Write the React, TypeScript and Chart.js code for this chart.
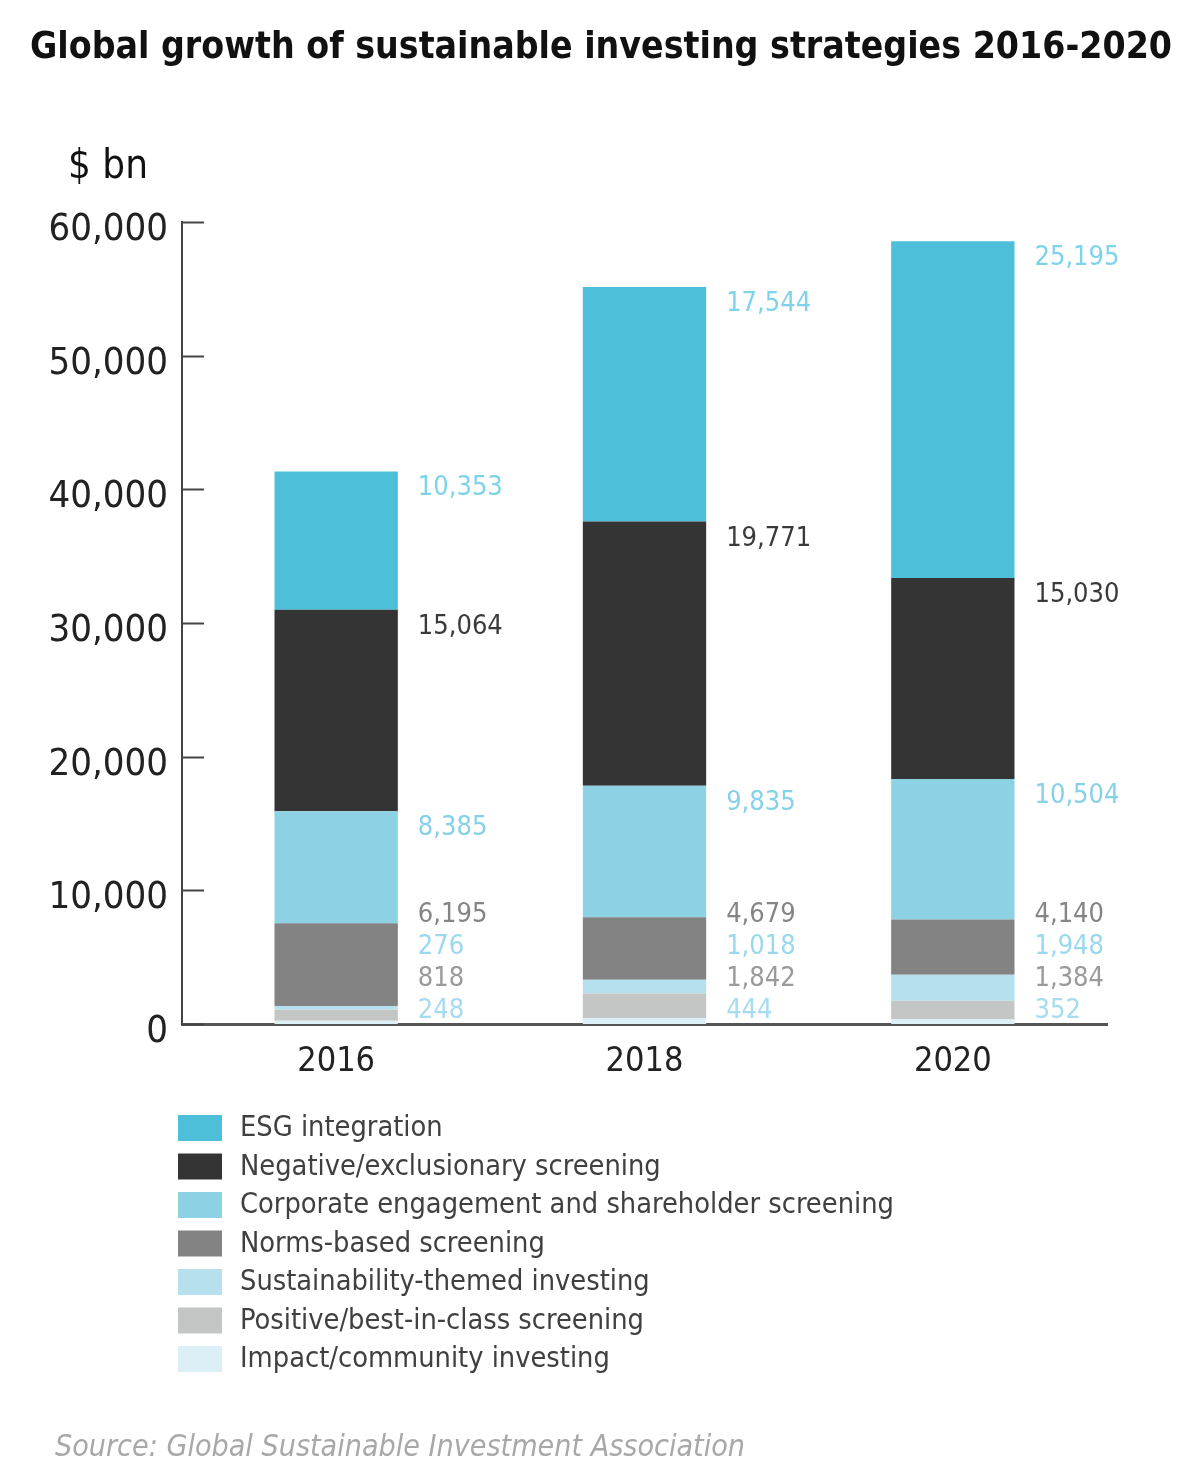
import React, { useEffect, useRef } from "react";
import { Chart, registerables } from "chart.js";

Chart.register(...registerables);

// ---- data ----
const years = ["2016", "2018", "2020"];
const impactInvesting = [248, 444, 352];
const positiveScreening = [818, 1842, 1384];
const sustainabilityThemed = [276, 1018, 1948];
const normsBased = [6195, 4679, 4140];
const corporateEngagement = [8385, 9835, 10504];
const negativeScreening = [15064, 19771, 15030];
const esgIntegration = [10353, 17544, 25195];
const yTicks = [0, 10000, 20000, 30000, 40000, 50000, 60000];

const TITLE = "Global growth of sustainable investing strategies 2016-2020";
const UNIT = "$ bn";
const SOURCE = "Source: Global Sustainable Investment Association";

const FONT = '"DejaVu Sans Condensed", "DejaVu Sans", sans-serif';

// stacked bottom -> top
const seriesDefs = [
  { label: "Impact/community investing", data: impactInvesting, color: "#DCEEF6", text: "#A6DCEF", slot: 0 },
  { label: "Positive/best-in-class screening", data: positiveScreening, color: "#C4C5C5", text: "#9A9A9A", slot: 1 },
  { label: "Sustainability-themed investing", data: sustainabilityThemed, color: "#B6E0EE", text: "#9AD8EE", slot: 2 },
  { label: "Norms-based screening", data: normsBased, color: "#838383", text: "#858585", slot: 3 },
  { label: "Corporate engagement and shareholder screening", data: corporateEngagement, color: "#8DD2E4", text: "#86D1E8", slot: -1 },
  { label: "Negative/exclusionary screening", data: negativeScreening, color: "#343434", text: "#3A3A3A", slot: -1 },
  { label: "ESG integration", data: esgIntegration, color: "#4DBFD9", text: "#7ED3EA", slot: -1 },
];

const fmt = (v: number) => v.toLocaleString("en-US");

function fitFont(ctx: CanvasRenderingContext2D, text: string, prefix: string, target: number) {
  ctx.font = `${prefix} 40px ${FONT}`;
  const w = ctx.measureText(text).width;
  const size = (40 * target) / w;
  ctx.font = `${prefix} ${size.toFixed(2)}px ${FONT}`;
}

const decorPlugin = {
  id: "decor",
  afterDraw(chart: any) {
    const ctx = chart.ctx as CanvasRenderingContext2D;
    const ys = chart.scales.y;
    const area = chart.chartArea;
    ctx.save();

    // title
    ctx.fillStyle = "#111";
    fitFont(ctx, TITLE, "bold", 1142);
    ctx.textAlign = "center";
    ctx.textBaseline = "middle";
    ctx.fillText(TITLE, 601, 48);

    // unit
    ctx.font = `40px ${FONT}`;
    ctx.textAlign = "left";
    ctx.fillText(UNIT, 68, 168);

    // inner tick marks on the y axis
    ctx.strokeStyle = "#444";
    ctx.lineWidth = 2;
    yTicks.forEach((v) => {
      const py = Math.round(ys.getPixelForValue(v)) + 0.5;
      ctx.beginPath();
      ctx.moveTo(area.left, py);
      ctx.lineTo(area.left + 22, py);
      ctx.stroke();
    });

    // value labels
    ctx.font = `27px ${FONT}`;
    ctx.textAlign = "left";
    ctx.textBaseline = "middle";
    const zeroPx = ys.getPixelForValue(0);
    seriesDefs.forEach((s, di) => {
      const meta = chart.getDatasetMeta(di);
      meta.data.forEach((bar: any, j: number) => {
        const lx = bar.x + bar.width / 2 + 20;
        let ly: number;
        if (s.slot >= 0) {
          ly = zeroPx - 13 - 32 * s.slot;
        } else {
          ly = bar.y + 17;
        }
        ctx.fillStyle = s.text;
        ctx.fillText(fmt(s.data[j]), lx, ly);
      });
    });

    // legend (top of stack first)
    const legend = [...seriesDefs].reverse();
    ctx.font = `28.7px ${FONT}`;
    legend.forEach((s, k) => {
      const cy = 1128 + 38.5 * k;
      ctx.fillStyle = s.color;
      ctx.fillRect(178, cy - 13, 44, 26);
      ctx.fillStyle = "#404040";
      ctx.fillText(s.label, 240, cy + 1);
    });

    // source
    fitFont(ctx, SOURCE, "italic", 690);
    ctx.fillStyle = "#A8A8A8";
    ctx.fillText(SOURCE, 55, 1448);

    ctx.restore();
  },
};

export default function App() {
  const canvasRef = useRef<HTMLCanvasElement | null>(null);

  useEffect(() => {
    if (!canvasRef.current) return;
    const chart = new Chart(canvasRef.current, {
      type: "bar",
      data: {
        labels: years,
        datasets: seriesDefs.map((s) => ({
          label: s.label,
          data: s.data,
          backgroundColor: s.color,
          borderWidth: 0,
          barPercentage: 0.4,
          categoryPercentage: 1,
        })),
      },
      options: {
        responsive: false,
        animation: false,
        layout: { padding: { top: 222, right: 93, bottom: 1483 - 1024 - 62, left: 0 } },
        plugins: {
          legend: { display: false },
          tooltip: { enabled: false },
          title: { display: false },
        },
        scales: {
          x: {
            stacked: true,
            grid: { display: false, drawTicks: false },
            border: { display: true, color: "#555", width: 3 },
            ticks: { color: "#222", font: { family: FONT, size: 34 }, padding: 18 },
            afterFit: (scale: any) => {
              scale.height = 62;
            },
          },
          y: {
            stacked: true,
            min: 0,
            max: 60000,
            grid: { display: false, drawTicks: false },
            border: { display: true, color: "#444", width: 2 },
            afterBuildTicks: (scale: any) => {
              scale.ticks = yTicks.map((v) => ({ value: v }));
            },
            ticks: {
              color: "#222",
              font: { family: FONT, size: 38 },
              padding: 14,
              labelOffset: 8,
              callback: (v: any) => fmt(Number(v)),
            },
            afterFit: (scale: any) => {
              scale.width = 182;
            },
          },
        },
      },
      plugins: [decorPlugin],
    });
    return () => chart.destroy();
  }, []);

  return (
    <div style={{ position: "absolute", left: 0, top: 0, width: 1200, height: 1483, background: "#fff" }}>
      <canvas ref={canvasRef} width={1200} height={1483} style={{ display: "block", width: 1200, height: 1483 }} />
    </div>
  );
}
